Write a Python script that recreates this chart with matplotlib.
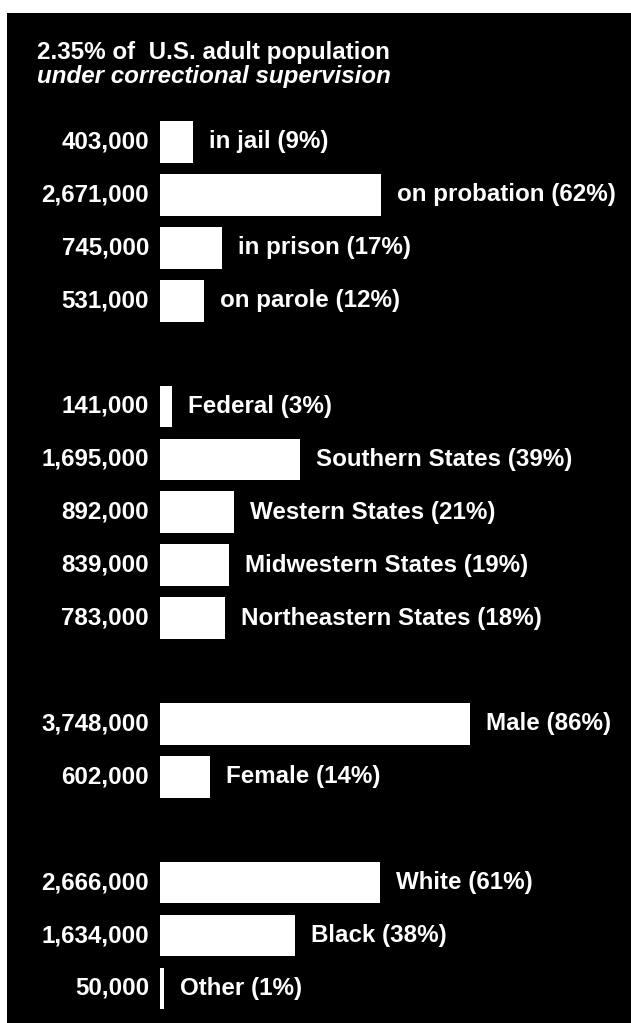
import matplotlib

matplotlib.use("Agg")

import matplotlib.pyplot as plt

# data, grouped as in the original
status_labels = ["in jail", "on probation", "in prison", "on parole"]
status_values = [403000, 2671000, 745000, 531000]
status_pcts = [9, 62, 17, 12]

region_labels = ["Federal", "Southern States", "Western States",
                 "Midwestern States", "Northeastern States"]
region_values = [141000, 1695000, 892000, 839000, 783000]
region_pcts = [3, 39, 21, 19, 18]

sex_labels = ["Male", "Female"]
sex_values = [3748000, 602000]
sex_pcts = [86, 14]

race_labels = ["White", "Black", "Other"]
race_values = [2666000, 1634000, 50000]
race_pcts = [61, 38, 1]

groups = [
    (status_labels, status_values, status_pcts),
    (region_labels, region_values, region_pcts),
    (sex_labels, sex_values, sex_pcts),
    (race_labels, race_values, race_pcts),
]

plt.rcParams["font.family"] = ["Liberation Sans", "DejaVu Sans"]

W, H = 631, 1023
fig = plt.figure(figsize=(W / 100, H / 100), dpi=100, facecolor="white")

# black panel (left/top white margins as in the scan)
left_px, top_px = 7, 13
ax = fig.add_axes([left_px / W, 0, (W - left_px) / W, (H - top_px) / H])
ax.set_facecolor("black")

px_per_m = 82.6          # pixels per million
x0_px = 160              # bar baseline position
row0_px, row_step = 142, 52.9

ax.set_xlim((left_px - x0_px) / px_per_m, (W - x0_px) / px_per_m)
ax.set_ylim((H - row0_px) / row_step, (top_px - row0_px) / row_step)
for s in ax.spines.values():
    s.set_visible(False)
ax.set_xticks([])
ax.set_yticks([])

fs = 17.4
row = 0
for labels, values, pcts in groups:
    for lab, val, pct in zip(labels, values, pcts):
        m = val / 1e6
        ax.barh(row, m, height=0.79, left=0, color="white")
        ax.text(-11 / px_per_m, row, f"{val:,}", ha="right", va="center",
                color="white", fontsize=fs, fontweight="bold")
        ax.text(m + 16 / px_per_m, row, f"{lab} ({pct}%)", ha="left",
                va="center", color="white", fontsize=fs, fontweight="bold")
        row += 1
    row += 1

tx = (37 - x0_px) / px_per_m
ax.text(tx, (59 - row0_px) / row_step, "2.35% of  U.S. adult population",
        ha="left", va="baseline", color="white", fontsize=fs,
        fontweight="bold")
ax.text(tx, (83 - row0_px) / row_step, "under correctional supervision",
        ha="left", va="baseline", color="white", fontsize=fs,
        fontweight="bold", style="italic")

fig.savefig("out.png", dpi=100, facecolor="white")
plt.close(fig)
